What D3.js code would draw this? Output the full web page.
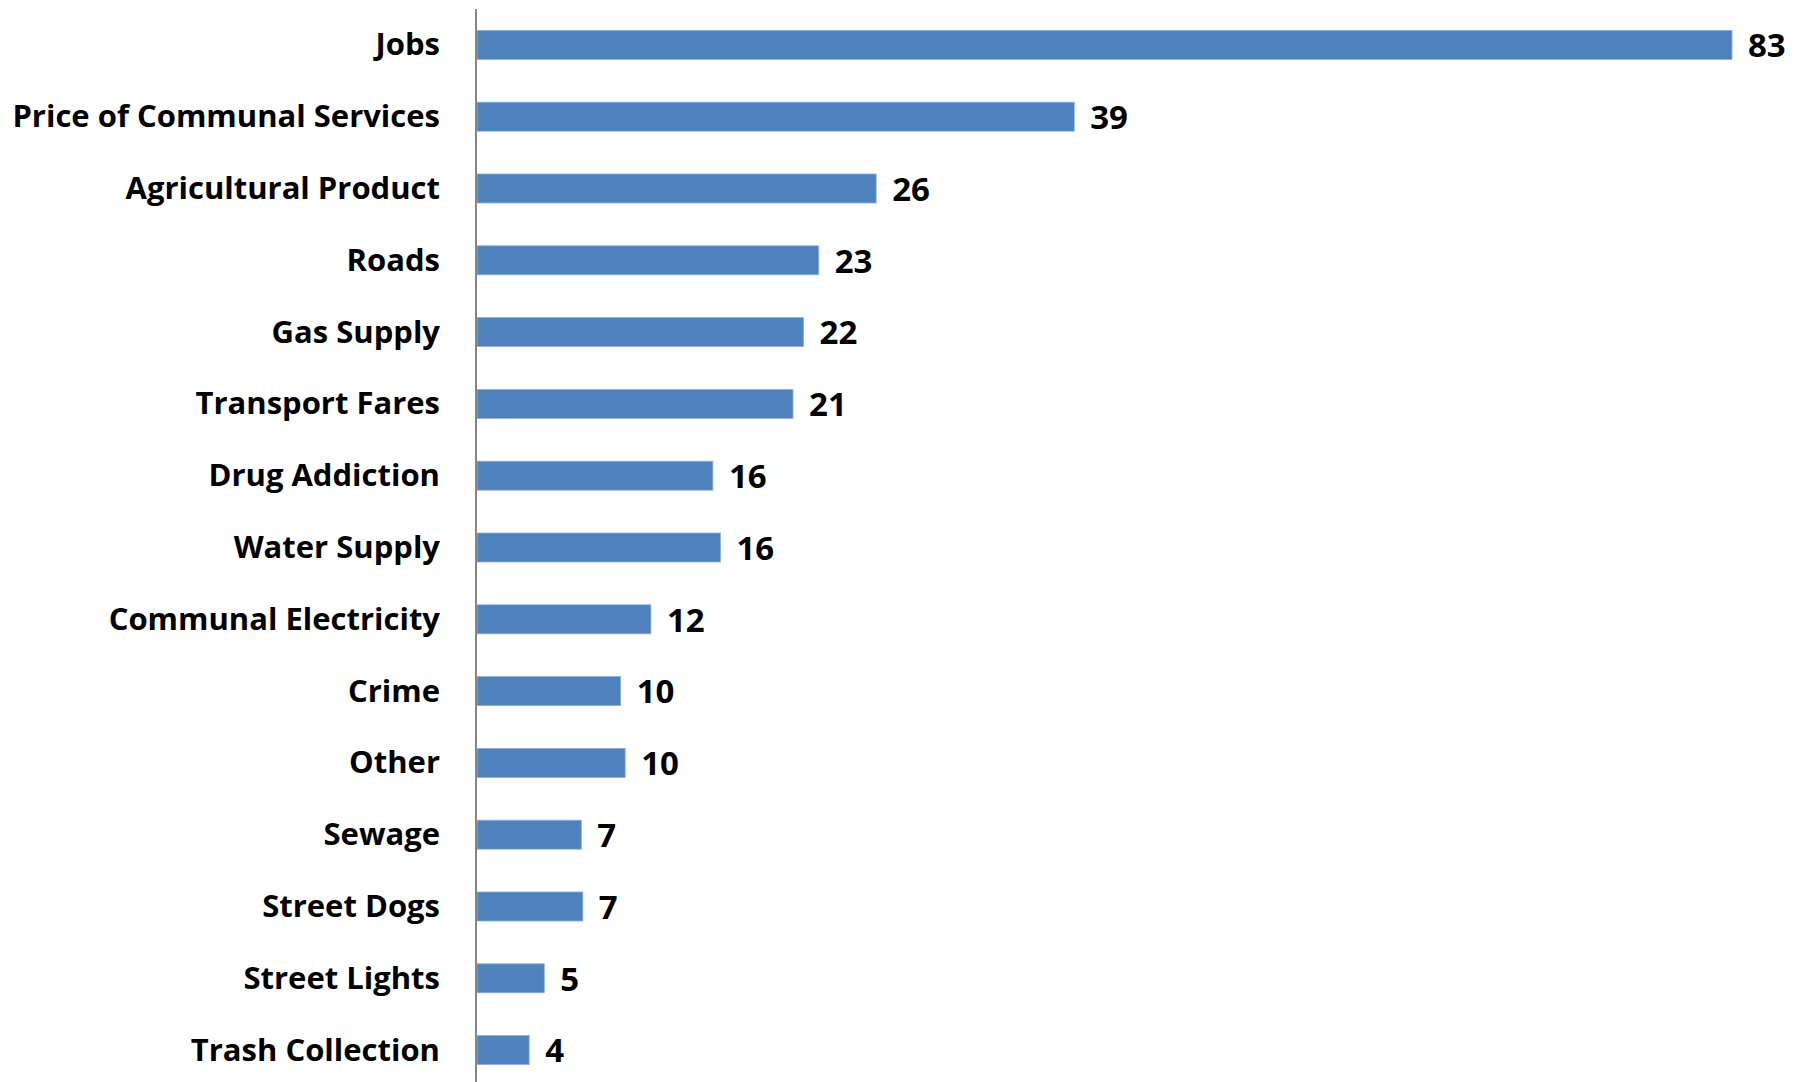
<!DOCTYPE html>
<html>
<head>
<meta charset="utf-8">
<script src="https://cdn.jsdelivr.net/npm/d3@7"></script>
<style>
  html, body { margin: 0; padding: 0; background: #ffffff; }
  svg { display: block; }
  text { font-family: "Open Sans", "Noto Sans", sans-serif; font-weight: 700; fill: #000; }
</style>
</head>
<body>
<svg id="chart" width="1800" height="1082"></svg>
<script>
const categories = ["Jobs", "Price of Communal Services", "Agricultural Product", "Roads", "Gas Supply",
  "Transport Fares", "Drug Addiction", "Water Supply", "Communal Electricity", "Crime", "Other",
  "Sewage", "Street Dogs", "Street Lights", "Trash Collection"];
const values = [83, 39.5, 26.4, 22.6, 21.6, 20.9, 15.6, 16.1, 11.5, 9.5, 9.8, 6.9, 7.0, 4.45, 3.45];
const valueLabels = ["83", "39", "26", "23", "22", "21", "16", "16", "12", "10", "10", "7", "7", "5", "4"];

const data = categories.map((c, i) => ({ cat: c, v: values[i], label: valueLabels[i] }));

const svg = d3.select("#chart");
const axisX = 476;

const x = d3.scaleLinear().domain([0, 83]).range([477, 1732]);
const y = d3.scaleBand().domain(categories).range([9, 1086]).paddingInner(0.596).paddingOuter(0.298);

svg.selectAll("rect.bar").data(data).enter().append("rect")
  .attr("class", "bar")
  .attr("x", x(0))
  .attr("y", d => y(d.cat))
  .attr("width", d => x(d.v) - x(0))
  .attr("height", y.bandwidth())
  .attr("fill", "#4F81BD")
  .attr("stroke", "#8DB0DD")
  .attr("stroke-width", 0.8);

const yAxis = d3.axisLeft(y).tickSize(0).tickPadding(0);
const gy = svg.append("g").attr("transform", `translate(${axisX},0)`).call(yAxis);
gy.select(".domain").remove();
gy.selectAll(".tick text")
  .attr("x", 440 - axisX)
  .attr("dy", "0.34em")
  .attr("text-anchor", "end")
  .style("font-family", "\"Open Sans\", sans-serif")
  .style("font-weight", "700")
  .style("font-size", "31px")
  .attr("fill", "#000");

svg.append("line")
  .attr("x1", axisX).attr("x2", axisX)
  .attr("y1", 9).attr("y2", 1082)
  .attr("stroke", "#868686").attr("stroke-width", 2);

svg.selectAll("text.val").data(data).enter().append("text")
  .attr("class", "val")
  .attr("x", d => x(d.v) + 16)
  .attr("y", d => y(d.cat) + y.bandwidth() / 2)
  .attr("dy", "0.37em")
  .style("font-size", "33px")
  .text(d => d.label);
</script>
</body>
</html>
